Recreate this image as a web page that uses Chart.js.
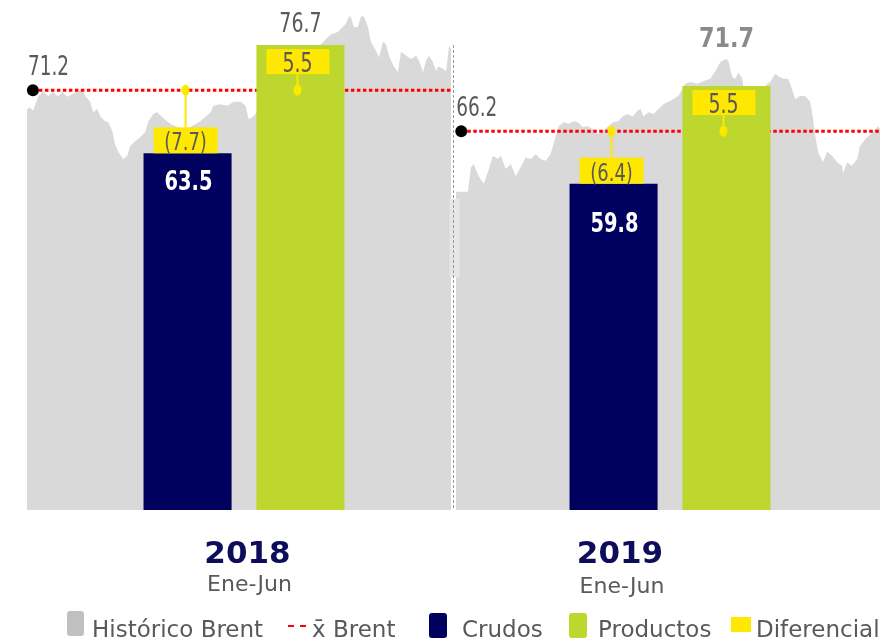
<!DOCTYPE html>
<html>
<head>
<meta charset="utf-8">
<script src="https://cdn.jsdelivr.net/npm/chart.js@4.4.1/dist/chart.umd.min.js"></script>
<style>
  html, body { margin: 0; padding: 0; background: #fff; }
  #wrap { position: relative; width: 887px; height: 642px; overflow: hidden; }
  canvas { position: absolute; left: 0; top: 0; }
  .sw { position: absolute; }
  .tx { position: absolute; top: 618px; font: 23px "DejaVu Sans", sans-serif; line-height: 23px; color: #595959; white-space: nowrap; }
</style>
</head>
<body>
<div id="wrap">
  <canvas id="brent" width="887" height="642"></canvas>
  <canvas id="barras" width="887" height="642"></canvas>
  <span class="sw" style="left:67px;top:611px;width:17px;height:25px;background:#c0c0c0;border-radius:3px"></span>
  <span class="tx" style="left:92px">Histórico Brent</span>
  <span class="sw" style="left:288px;top:625px;width:18px;height:0;border-top:2px dashed #ff0000"></span>
  <span class="tx" style="left:312px">x̄ Brent</span>
  <span class="sw" style="left:429px;top:613px;width:18px;height:25px;background:#00005f;border-radius:3px"></span>
  <span class="tx" style="left:462px">Crudos</span>
  <span class="sw" style="left:569px;top:613px;width:18px;height:25px;background:#bed72f;border-radius:3px"></span>
  <span class="tx" style="left:598px">Productos</span>
  <span class="sw" style="left:731px;top:617px;width:20px;height:15px;background:#ffe800"></span>
  <span class="tx" style="left:756px">Diferencial</span>
</div>
<script>
'use strict';

// datos del gráfico
const categorias = ['2018', '2019'];
const periodos = ['Ene-Jun', 'Ene-Jun'];
const crudos = [63.5, 59.8];
const productos = [76.7, 71.7];
const brentMedio = [71.2, 66.2];
const diferencialCrudos = [-7.7, -6.4];
const diferencialProductos = [5.5, 5.5];

// histórico Brent (día del semestre, precio)
const dias2018 = [0, 1.3, 2.6, 4.7, 6.8, 9.0, 11.1, 13.2, 14.9, 17.0, 19.1, 21.7, 23.4, 24.7, 26.8, 28.1, 29.8, 31.1, 33.2, 34.5,
  36.2, 37.4, 38.7, 40.8, 42.6, 43.8, 46.0, 48.1, 50.2, 51.5, 53.6, 55.3, 57.4, 60.8, 65.1, 69.4, 73.6, 77.9, 79.1, 82.1,
  85.1, 87.7, 90.6, 92.8, 94.0, 95.7, 97.0, 101.3, 105.5, 109.8, 114.0, 118.3, 122.6, 126.8, 128.9, 131.9, 134.0, 135.3, 136.6, 137.4,
  138.7, 140.4, 141.7, 143.0, 144.7, 145.9, 148.1, 149.4, 151.1, 152.3, 153.6, 155.7, 157.4, 158.7, 160.9, 163.0, 165.1, 166.4, 168.1, 169.3,
  170.6, 172.3, 173.6, 174.5, 176.6, 177.9, 179.1, 180];
const brent2018 = [68.9, 69.1, 68.7, 70.4, 71.0, 70.5, 71.0, 70.4, 71.0, 70.4, 70.7, 71.1, 71.3, 70.5, 69.8, 68.5, 68.9, 68.0, 67.4, 67.3,
  66.2, 64.6, 63.7, 62.8, 63.2, 64.4, 65.0, 65.5, 66.1, 67.4, 68.3, 68.5, 67.9, 67.1, 66.5, 66.7, 67.4, 68.5, 69.3, 69.5,
  69.3, 69.8, 69.8, 69.3, 67.7, 67.9, 68.3, 69.5, 70.7, 72.0, 73.2, 75.0, 76.2, 77.4, 78.0, 78.3, 78.9, 79.3, 80.2, 80.2,
  78.9, 78.9, 80.2, 80.2, 78.9, 77.1, 76.0, 75.2, 77.1, 76.8, 75.4, 74.1, 73.4, 75.9, 75.4, 75.0, 75.4, 74.8, 73.4, 74.8,
  75.4, 74.6, 73.5, 74.1, 73.8, 73.5, 76.6, 76.2];
const dias2019 = [0, 5.1, 6.4, 7.6, 9.7, 11.9, 14.0, 15.7, 17.8, 19.1, 21.2, 23.3, 25.4, 27.5, 29.6, 31.8, 33.9, 36.0, 38.1, 40.2,
  42.4, 43.6, 45.7, 47.9, 50.0, 51.7, 53.8, 55.9, 58.0, 60.1, 62.3, 64.4, 66.9, 69.0, 70.7, 72.8, 75.0, 77.1, 78.4, 79.6,
  81.7, 83.9, 86.0, 88.1, 91.1, 94.4, 97.4, 99.5, 102.5, 105.0, 108.0, 110.1, 112.2, 114.4, 115.6, 117.3, 118.6, 119.9, 121.6, 122.0,
  124.9, 129.2, 133.4, 135.5, 136.8, 138.9, 141.0, 142.7, 144.0, 146.1, 148.2, 150.4, 151.6, 152.5, 153.7, 155.8, 157.5, 159.7, 161.8, 163.9,
  164.3, 166.0, 168.1, 170.3, 171.5, 173.6, 177.0, 179.1, 180];
const brent2019 = [58.8, 58.8, 61.8, 62.2, 60.7, 59.8, 61.6, 63.2, 62.8, 63.2, 61.6, 62.2, 60.7, 61.8, 63.0, 62.8, 63.4, 62.8, 62.6, 63.4,
  65.6, 66.8, 67.3, 67.1, 67.4, 67.3, 66.7, 66.8, 66.5, 65.9, 66.2, 66.7, 67.3, 67.4, 68.0, 68.3, 68.0, 68.7, 68.9, 68.0,
  68.5, 68.3, 68.9, 69.5, 69.9, 70.5, 72.0, 72.2, 72.0, 72.3, 72.6, 73.5, 74.6, 75.0, 74.8, 72.8, 72.6, 73.4, 72.6, 71.7,
  71.6, 71.3, 72.2, 73.2, 72.9, 72.6, 72.6, 71.3, 70.1, 70.5, 70.5, 69.8, 67.7, 65.6, 63.7, 62.4, 63.7, 63.2, 62.4, 62.0,
  61.0, 62.4, 62.0, 62.8, 64.4, 65.2, 66.1, 66.8, 66.5];

// el segundo semestre arranca tras un pequeño hueco en el eje de días
const inicio2019 = 182;

const COND = '"DejaVu Sans Condensed", "DejaVu Sans", sans-serif';
const AMARILLO = '#ffe800';
const EJE_Y = { type: 'linear', display: false, min: 20, max: 82.2, offset: false };

function texto(ctx, s, x, y, size, color, bold, align, sx, family) {
  ctx.save();
  ctx.translate(x, y);
  ctx.scale(sx || 1, 1);
  ctx.font = (bold ? 'bold ' : '') + size + 'px ' + (family || COND);
  ctx.fillStyle = color;
  ctx.textAlign = align || 'center';
  ctx.textBaseline = 'alphabetic';
  ctx.fillText(s, 0, 0);
  ctx.restore();
}

function fmt(v) {
  return v < 0 ? '(' + Math.abs(v).toFixed(1) + ')' : v.toFixed(1);
}

function conector(ctx, x, y1, y2) {
  ctx.save();
  ctx.strokeStyle = AMARILLO;
  ctx.lineWidth = 2;
  ctx.beginPath();
  ctx.moveTo(x, y1);
  ctx.lineTo(x, y2);
  ctx.stroke();
  ctx.fillStyle = AMARILLO;
  ctx.beginPath();
  ctx.ellipse(x, y2, 4, 5.5, 0, 0, Math.PI * 2);
  ctx.fill();
  ctx.restore();
}

const puntos = (dias, precios, desde) => dias.map((d, k) => ({ x: d + desde, y: precios[k] }));

// fondo: histórico Brent y media del semestre
const graficoBrent = new Chart(document.getElementById('brent'), {
  type: 'line',
  data: {
    datasets: [
      {
        label: 'x̄ Brent 2018',
        data: [{ x: 2.5, y: brentMedio[0] }, { x: 180, y: brentMedio[0] }],
        borderColor: '#ff0000', borderWidth: 3, borderDash: [3.5, 2.5],
        pointRadius: [6, 0], pointBackgroundColor: '#000', pointBorderWidth: 0,
        fill: false, order: 1, clip: false
      },
      {
        label: 'x̄ Brent 2019',
        data: [{ x: inicio2019 + 2.3, y: brentMedio[1] }, { x: inicio2019 + 180, y: brentMedio[1] }],
        borderColor: '#ff0000', borderWidth: 3, borderDash: [3.5, 2.5],
        pointRadius: [6, 0], pointBackgroundColor: '#000', pointBorderWidth: 0,
        fill: false, order: 1, clip: false
      },
      {
        label: 'Histórico Brent',
        data: puntos(dias2018, brent2018, 0),
        backgroundColor: '#d9d9d9', borderWidth: 0, pointRadius: 0,
        fill: 'start', tension: 0, order: 2
      },
      {
        label: 'Histórico Brent 2019',
        data: puntos(dias2019, brent2019, inicio2019),
        backgroundColor: '#d9d9d9', borderWidth: 0, pointRadius: 0,
        fill: 'start', tension: 0, order: 2
      }
    ]
  },
  options: {
    responsive: false,
    animation: false,
    layout: { padding: { left: 27, right: 7, top: 0, bottom: 132 }, autoPadding: false },
    scales: {
      x: { type: 'linear', display: false, min: 0, max: 362, offset: false },
      y: EJE_Y
    },
    plugins: { legend: { display: false }, tooltip: { enabled: false } }
  }
});

const rotulos = {
  id: 'rotulos',
  afterDatasetsDraw(chart) {
    const ctx = chart.ctx;
    const ys = chart.scales.y;
    const xs = chart.scales.x;
    const area = chart.chartArea;
    const barrasC = chart.getDatasetMeta(0).data;
    const barrasP = chart.getDatasetMeta(1).data;

    // separador entre semestres
    const xSep = graficoBrent.scales.x.getPixelForValue(181);
    ctx.save();
    ctx.fillStyle = '#e6e6e6';
    ctx.fillRect(xSep - 4, 199, 10, 78);
    ctx.strokeStyle = '#9a9a9a';
    ctx.lineWidth = 1;
    ctx.setLineDash([3, 2]);
    ctx.beginPath();
    ctx.moveTo(xSep, 45);
    ctx.lineTo(xSep, area.bottom);
    ctx.stroke();
    ctx.restore();

    const desfaseValor = [37, 48];
    const sup = [{ c: '#595959', b: false, s: 0.78, dy: 13 }, { c: '#8a8a8a', b: true, s: 0.92, dy: 39 }];
    const desfaseEtiqueta = [3.5, -50];

    for (let i = 0; i < categorias.length; i++) {
      const yMed = ys.getPixelForValue(brentMedio[i]);
      const punto = graficoBrent.getDatasetMeta(i).data[0];
      texto(ctx, brentMedio[i].toFixed(1), punto.x - 5, yMed - 15, 27, '#595959', false, 'left', 0.76);

      // crudos
      const c = barrasC[i];
      const xc = c.x - 2;
      conector(ctx, xc, c.y - 26, yMed);
      ctx.fillStyle = AMARILLO;
      ctx.fillRect(xc - 32, c.y - 26, 64, 26);
      texto(ctx, fmt(diferencialCrudos[i]), xc, c.y - 3, 25, '#595959', false, 'center', 0.8);
      texto(ctx, crudos[i].toFixed(1), c.x + 1, c.y + desfaseValor[i], 27, '#ffffff', true, 'center', 0.8);

      // productos
      const p = barrasP[i];
      const xp = p.x - 3;
      conector(ctx, xp, p.y + 28, yMed);
      ctx.fillStyle = AMARILLO;
      ctx.fillRect(xp - 31, p.y + 4, 63, 25);
      texto(ctx, fmt(diferencialProductos[i]), xp, p.y + 27, 27, '#595959', false, 'center', 0.78);
      texto(ctx, productos[i].toFixed(1), p.x, p.y - sup[i].dy, 27, sup[i].c, sup[i].b, 'center', sup[i].s);

      // etiquetas del eje
      const xl = xs.getPixelForValue(i) + desfaseEtiqueta[i];
      texto(ctx, categorias[i], xl, 563, 31, '#0d0d5c', true, 'center', 1, '"DejaVu Sans", sans-serif');
      texto(ctx, periodos[i], xl + 2, 591 + i * 2, 22, '#595959', false, 'center', 1, '"DejaVu Sans", sans-serif');
    }
  }
};

// frente: barras de crudos y productos
new Chart(document.getElementById('barras'), {
  type: 'bar',
  data: {
    labels: categorias,
    datasets: [
      { label: 'Crudos', data: crudos, backgroundColor: '#00005f' },
      { label: 'Productos', data: productos, backgroundColor: '#bed72f' }
    ]
  },
  options: {
    responsive: false,
    animation: false,
    layout: { padding: { left: 31, right: 4, top: 0, bottom: 132 } },
    categoryPercentage: 0.53,
    barPercentage: 0.78,
    scales: {
      x: { type: 'category', display: false, offset: true, grid: { display: false } },
      y: EJE_Y
    },
    plugins: { legend: { display: false }, tooltip: { enabled: false } }
  },
  plugins: [rotulos]
});
</script>
</body>
</html>
